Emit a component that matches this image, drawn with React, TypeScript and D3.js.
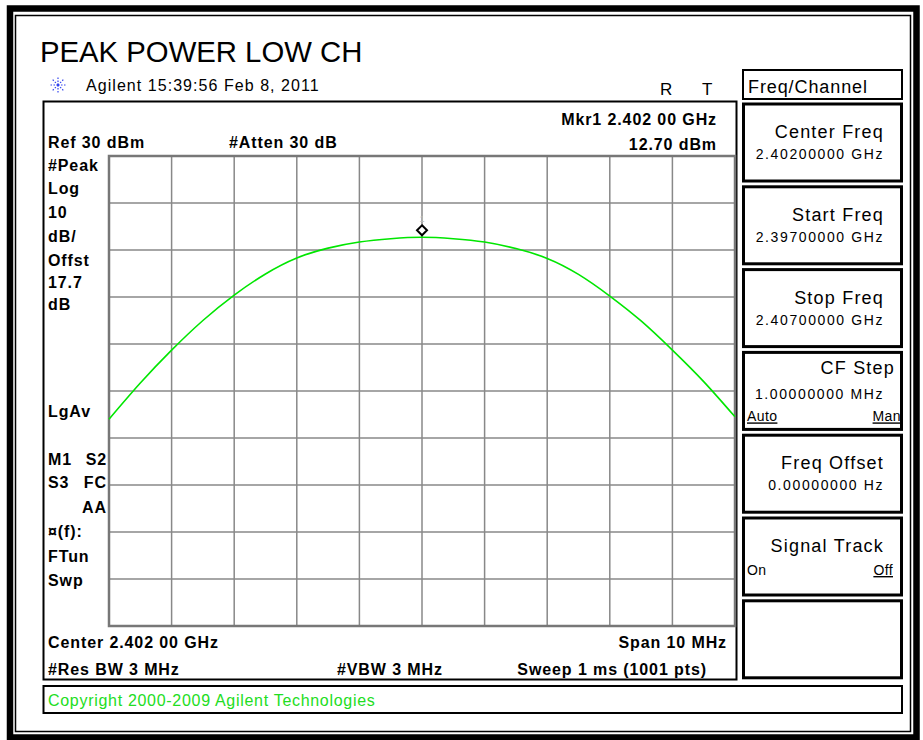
import React from "react";
import * as d3 from "d3";

// trace: MHz offset from centre, dBm
const freqOffsets = [-5, -4.5, -4, -3.5, -3, -2.5, -2, -1.5, -1, -0.5, 0, 0.5, 1, 1.5, 2, 2.5, 3, 3.5, 4, 4.5, 5];
const traceDbm = [-26.0, -18.3, -11.3, -5.0, 0.4, 4.9, 8.3, 10.4, 11.7, 12.4, 12.7, 12.4, 11.7, 10.3, 8.2, 4.8, 0.2, -5.1, -11.3, -18.0, -25.5];
const centerGHz = 2.402;
const spanMHz = 10;
const refLevel = 30;
const dbPerDiv = 10;
const markerOffset = 0;
const markerDbm = 12.7;

const leftLabels = [
  ["#Peak", 171], ["Log", 194], ["10", 218], ["dB/", 242], ["Offst", 266], ["17.7", 288], ["dB", 310],
  ["LgAv", 417], ["¤(f):", 537], ["FTun", 562], ["Swp", 586],
];

const softkeys = [
  { title: "Center Freq", value: "2.40200000 GHz" },
  { title: "Start Freq", value: "2.39700000 GHz" },
  { title: "Stop Freq", value: "2.40700000 GHz" },
  { title: "CF Step", value: "1.00000000 MHz", left: "Auto", right: "Man", ul: "both" },
  { title: "Freq Offset", value: "0.00000000  Hz" },
  { title: "Signal Track", value: "", left: "On", right: "Off", ul: "right" },
  { title: "", value: "" },
];

const FONT = "Arial, 'Liberation Sans', sans-serif";

export default function App() {
  const gx0 = 109, gx1 = 735, gy0 = 156, gy1 = 626;
  const x = d3.scaleLinear().domain([-spanMHz / 2, spanMHz / 2]).range([gx0, gx1]);
  const y = d3.scaleLinear().domain([refLevel - dbPerDiv * 10, refLevel]).range([gy1, gy0]);

  const line = d3
    .line<number>()
    .x((_, i) => x(freqOffsets[i]))
    .y((d) => y(d))
    .curve(d3.curveNatural);

  const xTicks = d3.range(-5, 5.01, 1);
  const yTicks = d3.range(refLevel - dbPerDiv * 10, refLevel + 0.01, dbPerDiv);

  const mx = x(markerOffset);
  const my = y(markerDbm) - 7;

  const bold = { fontFamily: FONT, fontWeight: 700, fontSize: 16, letterSpacing: 0.9, fill: "#000" } as const;
  const key = { fontFamily: FONT, fontSize: 18, letterSpacing: 1.2, fill: "#000" } as const;
  const keyVal = { fontFamily: FONT, fontSize: 14, letterSpacing: 1.6, fill: "#000" } as const;

  return (
    <svg width={923} height={740} style={{ position: "absolute", left: 0, top: 0, background: "#fff" }}>
      {/* document frame */}
      <rect x={10} y={8.5} width={906.5} height={729} fill="none" stroke="#000" strokeWidth={6.5} />
      <rect x={15.5} y={15.5} width={895} height={716} fill="none" stroke="#000" strokeWidth={1.5} />

      <text x={40} y={62} style={{ fontFamily: FONT, fontSize: 29.3, fill: "#000" }}>PEAK POWER LOW CH</text>

      {/* agilent logo */}
      <g transform="translate(58,85)" stroke="#3344ee" strokeWidth={1.2} strokeDasharray="1.5 1.5">
        {d3.range(8).map((i) => {
          const a = (i * Math.PI) / 4;
          return <line key={i} x1={0} y1={0} x2={8 * Math.cos(a)} y2={8 * Math.sin(a)} />;
        })}
      </g>
      <text x={86} y={91} style={{ fontFamily: FONT, fontSize: 16, letterSpacing: 1.05, fill: "#000" }}>
        Agilent 15:39:56  Feb 8, 2011
      </text>
      <text x={660} y={95} style={{ fontFamily: FONT, fontSize: 17, fill: "#000" }}>R</text>
      <text x={702} y={95} style={{ fontFamily: FONT, fontSize: 17, fill: "#000" }}>T</text>

      {/* main screen */}
      <rect x={43.5} y={101.5} width={693} height={578} fill="none" stroke="#000" strokeWidth={2} />
      <text x={48} y={148} style={bold}>Ref 30 dBm</text>
      <text x={229} y={148} style={bold}>#Atten 30 dB</text>
      <text x={717} y={125} textAnchor="end" style={bold}>Mkr1  2.402 00 GHz</text>
      <text x={717} y={150} textAnchor="end" style={bold}>12.70 dBm</text>

      {leftLabels.map(([t, yy]) => (
        <text key={t as string} x={48} y={yy as number} style={bold}>{t}</text>
      ))}
      <text x={48} y={465} style={bold}>M1</text>
      <text x={107} y={465} textAnchor="end" style={bold}>S2</text>
      <text x={48} y={488} style={bold}>S3</text>
      <text x={107} y={488} textAnchor="end" style={bold}>FC</text>
      <text x={107} y={513} textAnchor="end" style={bold}>AA</text>

      <text x={48} y={648} style={bold}>Center 2.402 00 GHz</text>
      <text x={727} y={648} textAnchor="end" style={bold}>Span 10 MHz</text>
      <text x={48} y={675} style={bold}>#Res BW 3 MHz</text>
      <text x={337} y={675} style={bold}>#VBW 3 MHz</text>
      <text x={707} y={675} textAnchor="end" style={bold}>Sweep 1 ms (1001 pts)</text>

      {/* graticule */}
      <g stroke="#888" strokeWidth={1.5}>
        {xTicks.map((t) => (
          <line key={"v" + t} x1={x(t)} x2={x(t)} y1={gy0} y2={gy1} />
        ))}
        {yTicks.map((t) => (
          <line key={"h" + t} x1={gx0} x2={gx1} y1={y(t)} y2={y(t)} />
        ))}
      </g>
      <rect x={gx0} y={gy0} width={gx1 - gx0} height={gy1 - gy0} fill="none" stroke="#777" strokeWidth={2.5} />

      <path d={line(traceDbm) ?? ""} fill="none" stroke="#00e600" strokeWidth={1.6} />

      {/* marker */}
      <text x={mx} y={my - 8} textAnchor="middle" style={{ fontFamily: FONT, fontSize: 9, fill: "#bbb" }}>1</text>
      <path d={`M${mx},${my - 5} L${mx + 5},${my} L${mx},${my + 5} L${mx - 5},${my} Z`} fill="#fff" stroke="#000" strokeWidth={2} />

      {/* softkeys */}
      <rect x={743} y={70} width={159} height={29} fill="none" stroke="#000" strokeWidth={2} />
      <text x={748} y={93} style={{ fontFamily: FONT, fontSize: 18, letterSpacing: 0.9, fill: "#000" }}>Freq/Channel</text>
      {softkeys.map((k, i) => {
        const t = 103 + i * 82.8;
        const cf = k.title === "CF Step";
        return (
          <g key={i}>
            <rect x={743.5} y={t + 1} width={158} height={77} fill="none" stroke="#000" strokeWidth={3} />
            {k.title && (
              <text x={cf ? 895 : 884} y={t + (cf ? 23 : 35)} textAnchor="end" style={key}>{k.title}</text>
            )}
            {k.value && (
              <text x={884} y={t + (cf ? 48 : 56)} textAnchor="end" style={keyVal}>{k.value}</text>
            )}
            {k.left && (
              <text x={747} y={t + (cf ? 70 : 58)} textDecoration={k.ul === "both" ? "underline" : undefined} style={{ ...keyVal, letterSpacing: 0.4 }}>{k.left}</text>
            )}
            {k.right && (
              <text x={cf ? 901 : 893} y={t + (cf ? 70 : 58)} textAnchor="end" textDecoration="underline" style={{ ...keyVal, letterSpacing: 0.4 }}>{k.right}</text>
            )}
          </g>
        );
      })}

      {/* status line */}
      <rect x={43.5} y={686} width={858.5} height={27} fill="none" stroke="#000" strokeWidth={2} />
      <text x={48} y={706} style={{ fontFamily: FONT, fontSize: 16, letterSpacing: 0.7, fill: "#22dd22" }}>
        Copyright 2000-2009 Agilent Technologies
      </text>
    </svg>
  );
}
